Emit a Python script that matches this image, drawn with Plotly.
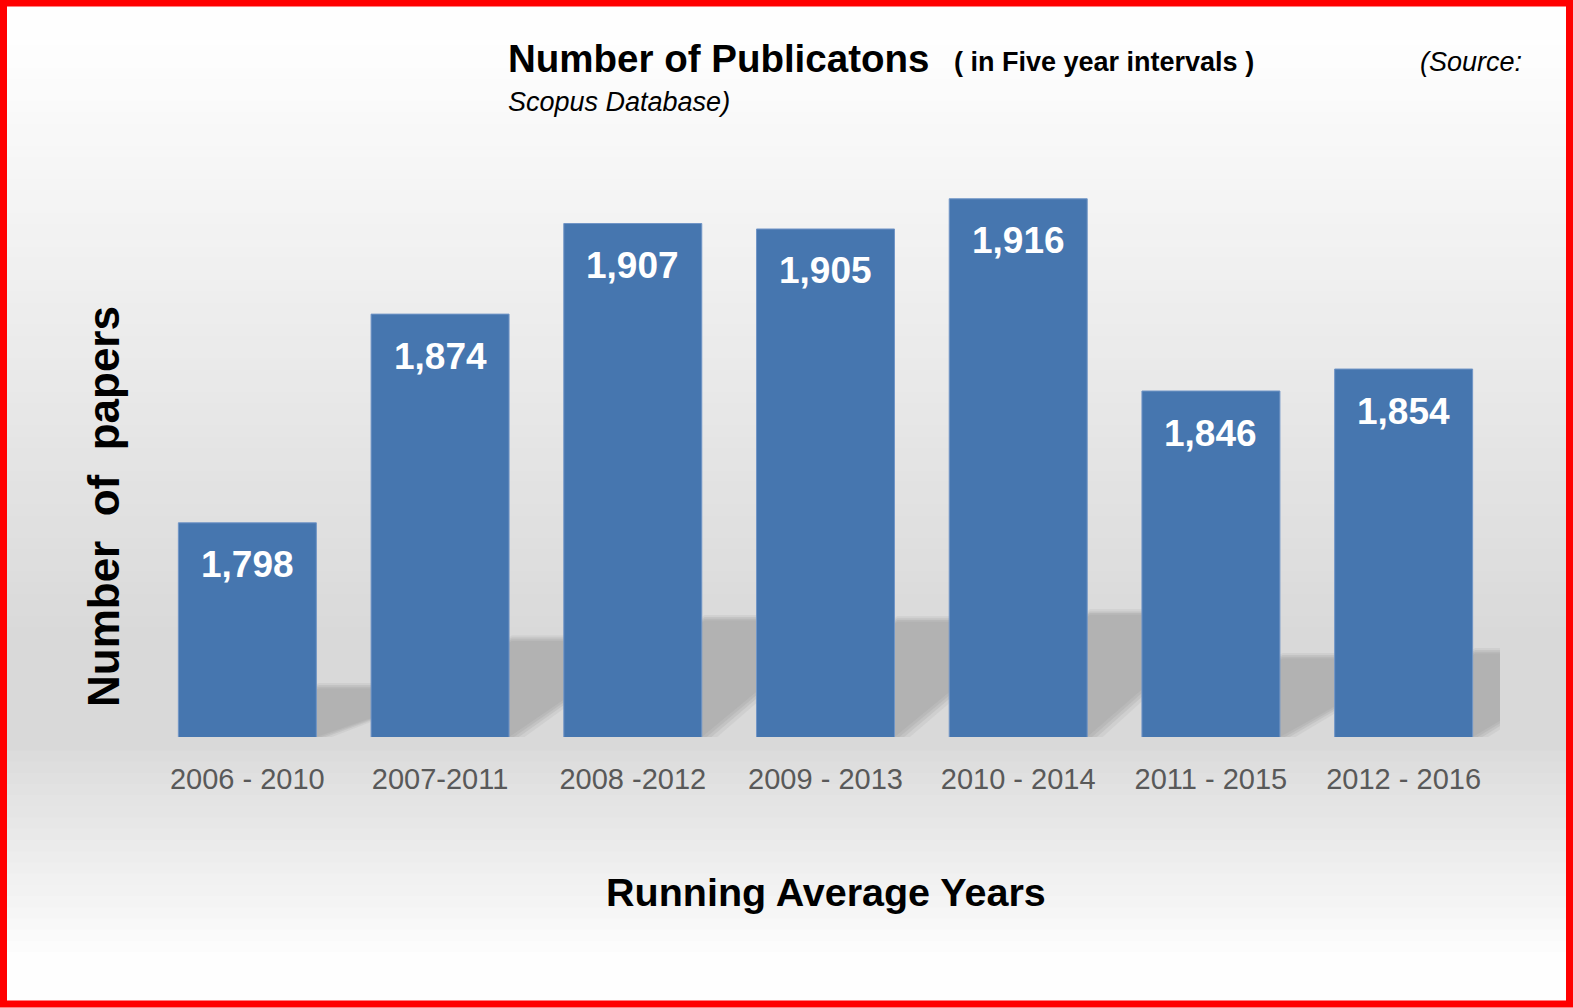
import plotly.graph_objects as go

categories = ["2006 - 2010", "2007-2011", "2008 -2012", "2009 - 2013",
              "2010 - 2014", "2011 - 2015", "2012 - 2016"]
papers = [1798, 1874, 1907, 1905, 1916, 1846, 1854]
labels = [f"{v:,}" for v in papers]
xpos = list(range(len(categories)))

W, H = 1573, 1008
L, R, T, B = 151, 73, 170, 271
pw, ph = W - L - R, H - T - B
YMIN = 1720
YMAX = YMIN + ph / 2.746
BARW = 0.716

def px(xp):
    return (xp - L) / pw

def py(yp):
    return (H - B - yp) / ph

SANS = "Liberation Sans, Arial, sans-serif"

fig = go.Figure()
fig.add_trace(go.Bar(
    x=xpos, y=papers, base=0,
    marker=dict(color="#4676af", line=dict(color="#7195c6", width=1)),
    width=BARW, hoverinfo="y",
))

ann = []
for xi, v, t in zip(xpos, papers, labels):
    ann.append(dict(x=xi, y=v, xref="x", yref="y", text=f"<b>{t}</b>", showarrow=False,
                    yshift=-42, font=dict(family=SANS, size=37, color="white"),
                    yanchor="middle"))

ann += [
    dict(x=px(506), y=py(58), xref="paper", yref="paper", xanchor="left", yanchor="middle",
         text="<b>Number of Publicatons</b>", showarrow=False,
         font=dict(family=SANS, size=38.5, color="black")),
    dict(x=px(952), y=py(62), xref="paper", yref="paper", xanchor="left", yanchor="middle",
         text="<b>( in Five year intervals )</b>", showarrow=False,
         font=dict(family=SANS, size=27, color="black")),
    dict(x=px(1524), y=py(62), xref="paper", yref="paper", xanchor="right", yanchor="middle",
         text="<i>(Source:</i>", showarrow=False,
         font=dict(family=SANS, size=27, color="black")),
    dict(x=px(506), y=py(102), xref="paper", yref="paper", xanchor="left", yanchor="middle",
         text="<i>Scopus Database)</i>", showarrow=False,
         font=dict(family=SANS, size=27, color="black")),
    dict(x=px(103), y=py(507), xref="paper", yref="paper", xanchor="center", yanchor="middle",
         text="<b>Number  of  papers</b>", showarrow=False, textangle=-90,
         font=dict(family=SANS, size=44, color="black")),
    dict(x=px(826), y=py(892), xref="paper", yref="paper", xanchor="center", yanchor="middle",
         text="<b>Running Average Years</b>", showarrow=False,
         font=dict(family=SANS, size=39.5, color="black")),
]

# background gradient: white -> light gray (around bars' base) -> white
shapes = []
N = 90
def bg(yp):
    if yp < 640:
        t = max(0.0, (yp - 40) / (640 - 40))
        g = 254 - (254 - 217) * t
    elif yp < 750:
        g = 217
    else:
        t = min(1.0, (yp - 750) / (960 - 750))
        g = 219 + (254 - 219) * t
    return int(round(g))

step = H / N
for i in range(N):
    y0 = i * step
    y1 = (i + 1) * step + 1
    g = bg((y0 + y1) / 2)
    shapes.append(dict(type="rect", xref="paper", yref="paper", layer="below",
                       x0=px(0), x1=px(W), y0=py(y1), y1=py(y0),
                       fillcolor=f"rgb({g},{g},{g})", line=dict(width=0)))

# soft drop shadows cast to the right of each bar (skewed, proportional to bar height)
SKEW = 0.73      # horizontal offset of the shadow top, in category units
SH = 0.227       # shadow height relative to bar height
for xi, v in zip(xpos, papers):
    h = SH * (v - YMIN)
    x0 = xi - BARW / 2
    x1 = xi + BARW / 2
    for grow, op in [(0.08, 0.25), (0.05, 0.4), (0.025, 0.6), (0.0, 1.0)]:
        path = (f"M {x0},{YMIN} L {x1 + grow},{YMIN} "
                f"L {x1 + SKEW + grow},{YMIN + h + grow * 25} "
                f"L {x0 + SKEW},{YMIN + h + grow * 25} Z")
        shapes.append(dict(type="path", xref="x", yref="y", layer="below", path=path,
                           fillcolor="rgb(178,178,178)", opacity=op, line=dict(width=0)))

shapes.append(dict(type="rect", xref="paper", yref="paper", layer="above",
                   x0=px(3.5), x1=px(W - 3.5), y0=py(H - 4), y1=py(3),
                   line=dict(color="red", width=7), fillcolor="rgba(0,0,0,0)"))

fig.update_layout(
    width=W, height=H,
    margin=dict(l=L, r=R, t=T, b=B, pad=0),
    paper_bgcolor="white", plot_bgcolor="rgba(0,0,0,0)",
    showlegend=False,
    xaxis=dict(range=[-0.5, len(categories) - 0.5], tickmode="array", tickvals=xpos,
               ticktext=categories, tickangle=0,
               showgrid=False, showline=False, zeroline=False, ticks="",
               tickfont=dict(family=SANS, size=29, color="#595959"), ticklabelstandoff=22),
    yaxis=dict(range=[YMIN, YMAX], visible=False, showgrid=False),
    annotations=ann,
    shapes=shapes,
)

fig.write_html("out.html", config={"displayModeBar": False},
               post_script="document.body.style.margin='0';document.body.style.overflow='hidden';")
